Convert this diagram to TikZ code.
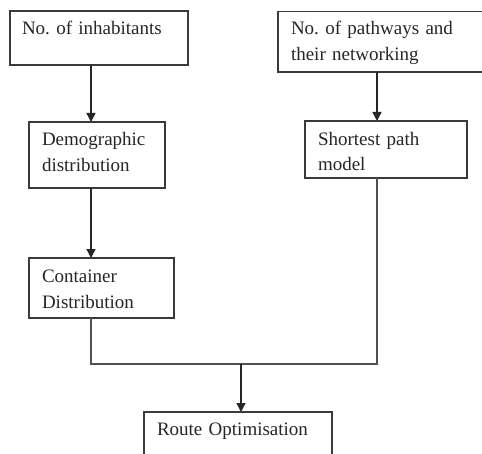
\documentclass[tikz,border=0pt]{standalone}
\usepackage{fontspec}
\setmainfont{Liberation Serif}
\usetikzlibrary{arrows.meta}
\definecolor{boxc}{HTML}{3A3A3A}
\definecolor{linec}{HTML}{262626}
\definecolor{linel}{HTML}{505050}
\newcommand\figfont{\frenchspacing\fontsize{19bp}{25.5bp}\selectfont}
\tikzset{
  box/.style={draw=boxc, line width=1.3bp, rectangle, anchor=north west, inner sep=0pt, outer sep=0pt},
  txt/.style={anchor=base west, inner sep=0pt, outer sep=0pt, align=left, text width=6cm, font=\figfont, text=black!85},
  conn/.style={draw=linel, line width=1.3bp},
  arr/.style={draw=linec, line width=1.4bp, -{Triangle[width=9bp,length=9bp]}}
}
\begin{document}
\begin{tikzpicture}[x=1bp, y=-1bp]
\useasboundingbox (0,0) rectangle (482,454);
\clip (0,0) rectangle (482,454);
\fill[white] (0,0) rectangle (482,454);
% boxes
\node[box, minimum width=178bp, minimum height=54bp] (b1) at (10,11) {};
\node[box, minimum width=136bp, minimum height=66bp] (b2) at (29,122) {};
\node[box, minimum width=145bp, minimum height=60bp] (b3) at (29,258) {};
\node[box, minimum width=220bp, minimum height=60.5bp] (b4) at (278,11.5) {};
\node[box, minimum width=162bp, minimum height=57bp] (b5) at (305,121) {};
\node[box, minimum width=188bp, minimum height=60bp] (b6) at (144,412) {};
% texts
\node[txt] (t1) at ([shift={(12,24)}]b1.north west) {No. of inhabitants};
\node[txt] (t2) at ([shift={(13,24)}]b2.north west) {Demographic\\distribution};
\node[txt] (t3) at ([shift={(13,24.5)}]b3.north west) {Container\\Distribution};
\node[txt] (t4) at ([shift={(13,23.5)}]b4.north west) {No. of pathways and\\their networking};
\node[txt] (t5) at ([shift={(13,24.5)}]b5.north west) {Shortest path\\model};
\node[txt] (t6) at ([shift={(13,23)}]b6.north west) {Route Optimisation};
% connector columns
\coordinate (xl) at (91,0);
\coordinate (xr) at (377,0);
\coordinate (xm) at (241,0);
\coordinate (jl) at (91,364);
\coordinate (jr) at (377,364);
\coordinate (jm) at (241,364);
% connectors
\draw[arr] (b1.south -| xl) -- (b2.north -| xl);
\draw[arr] (b2.south -| xl) -- (b3.north -| xl);
\draw[arr] (b4.south -| xr) -- (b5.north -| xr);
\draw[conn] (b3.south -| xl) -- (jl) -- (jr) -- (b5.south -| xr);
\draw[arr] (jm) -- (b6.north -| xm);
\end{tikzpicture}
\end{document}
